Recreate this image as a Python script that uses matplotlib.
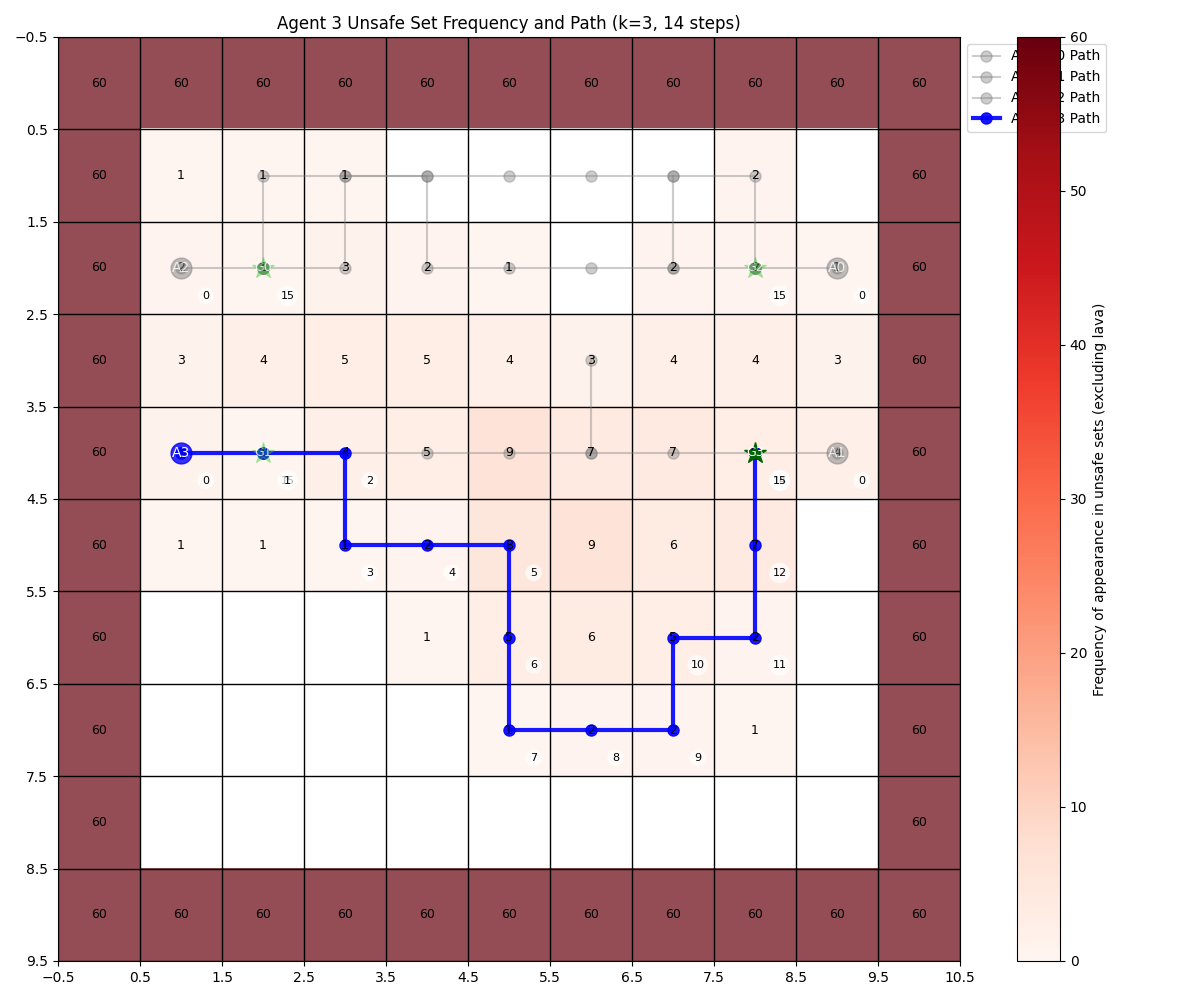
import numpy as np
import matplotlib
matplotlib.use("Agg")
import matplotlib.pyplot as plt
from matplotlib.colors import Normalize
from matplotlib.cm import ScalarMappable

# unsafe set frequency for the inner cells (rows 1..8, cols 1..9); border is lava
inner_freq = [
    [1, 1, 1, 0, 0, 0, 0, 2, 0],
    [2, 1, 3, 2, 1, 0, 2, 2, 1],
    [3, 4, 5, 5, 4, 3, 4, 4, 3],
    [3, 1, 4, 5, 9, 7, 7, 5, 4],
    [1, 1, 1, 2, 8, 9, 6, 7, 0],
    [0, 0, 0, 1, 5, 6, 5, 2, 0],
    [0, 0, 0, 0, 1, 2, 2, 1, 0],
    [0, 0, 0, 0, 0, 0, 0, 0, 0],
]
lava_value = 60
n_rows, n_cols = 10, 11

# agent paths as (row, col), 16 positions each (steps 0..15)
path_a0 = [(2, 9), (2, 8), (1, 8), (1, 7), (1, 6), (1, 5), (1, 4), (1, 3), (2, 3), (2, 2)] + [(2, 2)] * 6
path_a1 = [(4, 9), (4, 8), (4, 7), (4, 6), (3, 6), (4, 6), (4, 5), (4, 4), (4, 3), (4, 2)] + [(4, 2)] * 6
path_a2 = [(2, 1), (2, 2), (1, 2), (1, 3), (1, 4), (2, 4), (2, 5), (2, 6), (2, 7), (1, 7), (2, 7), (2, 8)] + [(2, 8)] * 4
path_a3 = [(4, 1), (4, 2), (4, 3), (5, 3), (5, 4), (5, 5), (6, 5), (7, 5), (7, 6), (7, 7),
           (6, 7), (6, 8), (5, 8), (4, 8), (4, 8), (4, 8)]
paths = [path_a0, path_a1, path_a2, path_a3]
goal_labels = ["G0", "G1", "G2", "G3"]
start_labels = ["A0", "A1", "A2", "A3"]
focus = 3

freq = np.full((n_rows, n_cols), lava_value, dtype=float)
freq[1:9, 1:10] = np.array(inner_freq)

fig = plt.figure(figsize=(12, 10), dpi=100)
ax = fig.add_axes([0.0483, 0.039, 0.7517, 0.924])

# zero cells stay white
shown = np.ma.masked_where(freq == 0, freq)
ax.imshow(shown, cmap="Reds", vmin=0, vmax=60, alpha=0.7, aspect="auto")

# cell values
for r in range(n_rows):
    for c in range(n_cols):
        v = int(freq[r, c])
        if v > 0:
            ax.text(c, r, str(v), ha="center", va="center", fontsize=9, color="black", zorder=4)

# grid
ax.set_xticks(np.arange(-0.5, n_cols, 1))
ax.set_yticks(np.arange(-0.5, n_rows, 1))
ax.grid(color="black", linewidth=1)
ax.set_xlim(-0.5, n_cols - 0.5)
ax.set_ylim(n_rows - 0.5, -0.5)

for i, p in enumerate(paths):
    rows = [q[0] for q in p]
    cols = [q[1] for q in p]
    if i == focus:
        ax.plot(cols, rows, "-o", color="blue", lw=3, ms=8, alpha=0.9, zorder=3,
                label="Agent %d Path" % i)
        ax.plot(cols[0], rows[0], "o", color="blue", ms=15, alpha=0.8, zorder=5)
        ax.text(cols[0], rows[0], start_labels[i], color="white", ha="center", va="center",
                fontsize=10, zorder=6)
        ax.plot(cols[-1], rows[-1], "*", color="darkgreen", ms=16, zorder=5)
        ax.text(cols[-1], rows[-1], goal_labels[i], color="white", ha="center", va="center",
                fontsize=9, zorder=6)
        for t, (r, c) in enumerate(p):
            ax.text(c + 0.3, r + 0.3, str(t), fontsize=8, ha="center", va="center", zorder=6,
                    bbox=dict(boxstyle="circle,pad=0.3", fc="white", ec="none", alpha=0.7))
    else:
        ax.plot(cols, rows, "-o", color="gray", lw=1.5, ms=8, alpha=0.4, zorder=3,
                label="Agent %d Path" % i)
        ax.plot(cols[0], rows[0], "o", color="gray", ms=15, alpha=0.5, zorder=5)
        ax.text(cols[0], rows[0], start_labels[i], color="white", ha="center", va="center",
                fontsize=10, alpha=0.8, zorder=6)
        ax.plot(cols[-1], rows[-1], "*", color="limegreen", ms=16, alpha=0.35, zorder=5)
        ax.text(cols[-1], rows[-1], goal_labels[i], color="white", ha="center", va="center",
                fontsize=9, alpha=0.8, zorder=6)
        for t in [0, len(p) - 1]:
            r, c = p[t]
            ax.text(c + 0.3, r + 0.3, str(t), fontsize=8, ha="center", va="center", zorder=6,
                    bbox=dict(boxstyle="circle,pad=0.3", fc="white", ec="none", alpha=0.7))

ax.set_title("Agent 3 Unsafe Set Frequency and Path (k=3, 14 steps)")
ax.legend(loc="upper left", bbox_to_anchor=(1.0, 1.0))

cax = fig.add_axes([0.8475, 0.039, 0.0358, 0.924])
sm = ScalarMappable(norm=Normalize(0, 60), cmap="Reds")
cb = fig.colorbar(sm, cax=cax)
cb.set_label("Frequency of appearance in unsafe sets (excluding lava)")

plt.savefig("out.png")
